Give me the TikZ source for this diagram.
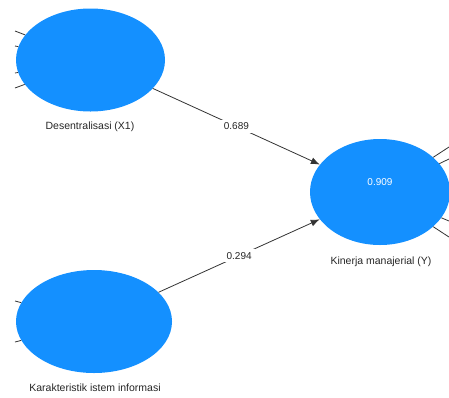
\documentclass[tikz,border=0pt]{standalone}
\usepackage{fontspec}
\setmainfont{Liberation Sans}
\usetikzlibrary{arrows.meta,positioning,shapes.geometric}
\definecolor{lvblue}{RGB}{20,144,255}

\begin{document}
\begin{tikzpicture}[x=1pt,y=-1pt,>={Latex[length=9pt,width=7pt]},
  latent/.style={ellipse,fill=lvblue,inner sep=0pt},
  rsq/.style={inner sep=0pt,text=white,yshift=10pt,font=\fontsize{10}{12}\selectfont},
  caption/.style={inner sep=0pt,text=black!85,font=\fontsize{10.5}{12}\selectfont},
  pathline/.style={draw=black!80,line width=0.8pt},
  coef/.style={fill=white,inner sep=3pt,text=black!85,font=\fontsize{10}{12}\selectfont}]
\useasboundingbox (0,0) rectangle (449,397);
% latent variables
\node[latent,minimum width=149pt,minimum height=103pt] (x1) at (90.5,60) {};
\node[latent,minimum width=156pt,minimum height=103pt] (x2) at (94,321.5) {};
\node[latent,minimum width=140pt,minimum height=106pt,label={[rsq]center:0.909}] (y) at (380,192) {};
\node[caption] (x1_lab) at (90,127) {Desentralisasi (X1)};
\node[caption] (x2_lab) at (95,388) {Karakteristik istem informasi};
\node[caption] (y_lab) at (381,262) {Kinerja manajerial (Y)};
% indicator stubs
\coordinate (x1_i1) at (15,31);
\coordinate (x1_i2) at (15,46);
\coordinate (x1_i3) at (15,73);
\coordinate (x1_i4) at (15,88);
\coordinate (x2_i1) at (15,301);
\coordinate (x2_i2) at (15,342);
\coordinate (y_i1) at (449,147);
\coordinate (y_i2) at (449,159);
\coordinate (y_i3) at (449,221);
\coordinate (y_i4) at (449,237);
\foreach \s in {x1_i1,x1_i2,x1_i3,x1_i4} \draw[pathline] (\s) -- (x1);
\foreach \s in {x2_i1,x2_i2} \draw[pathline] (\s) -- (x2);
\foreach \s in {y_i1,y_i2,y_i3,y_i4} \draw[pathline] (\s) -- (y);
% paths
\draw[pathline,->] (x1) -- node[coef] {0.689} (y);
\draw[pathline,->] (x2) -- node[coef] {0.294} (y);
\end{tikzpicture}
\end{document}
